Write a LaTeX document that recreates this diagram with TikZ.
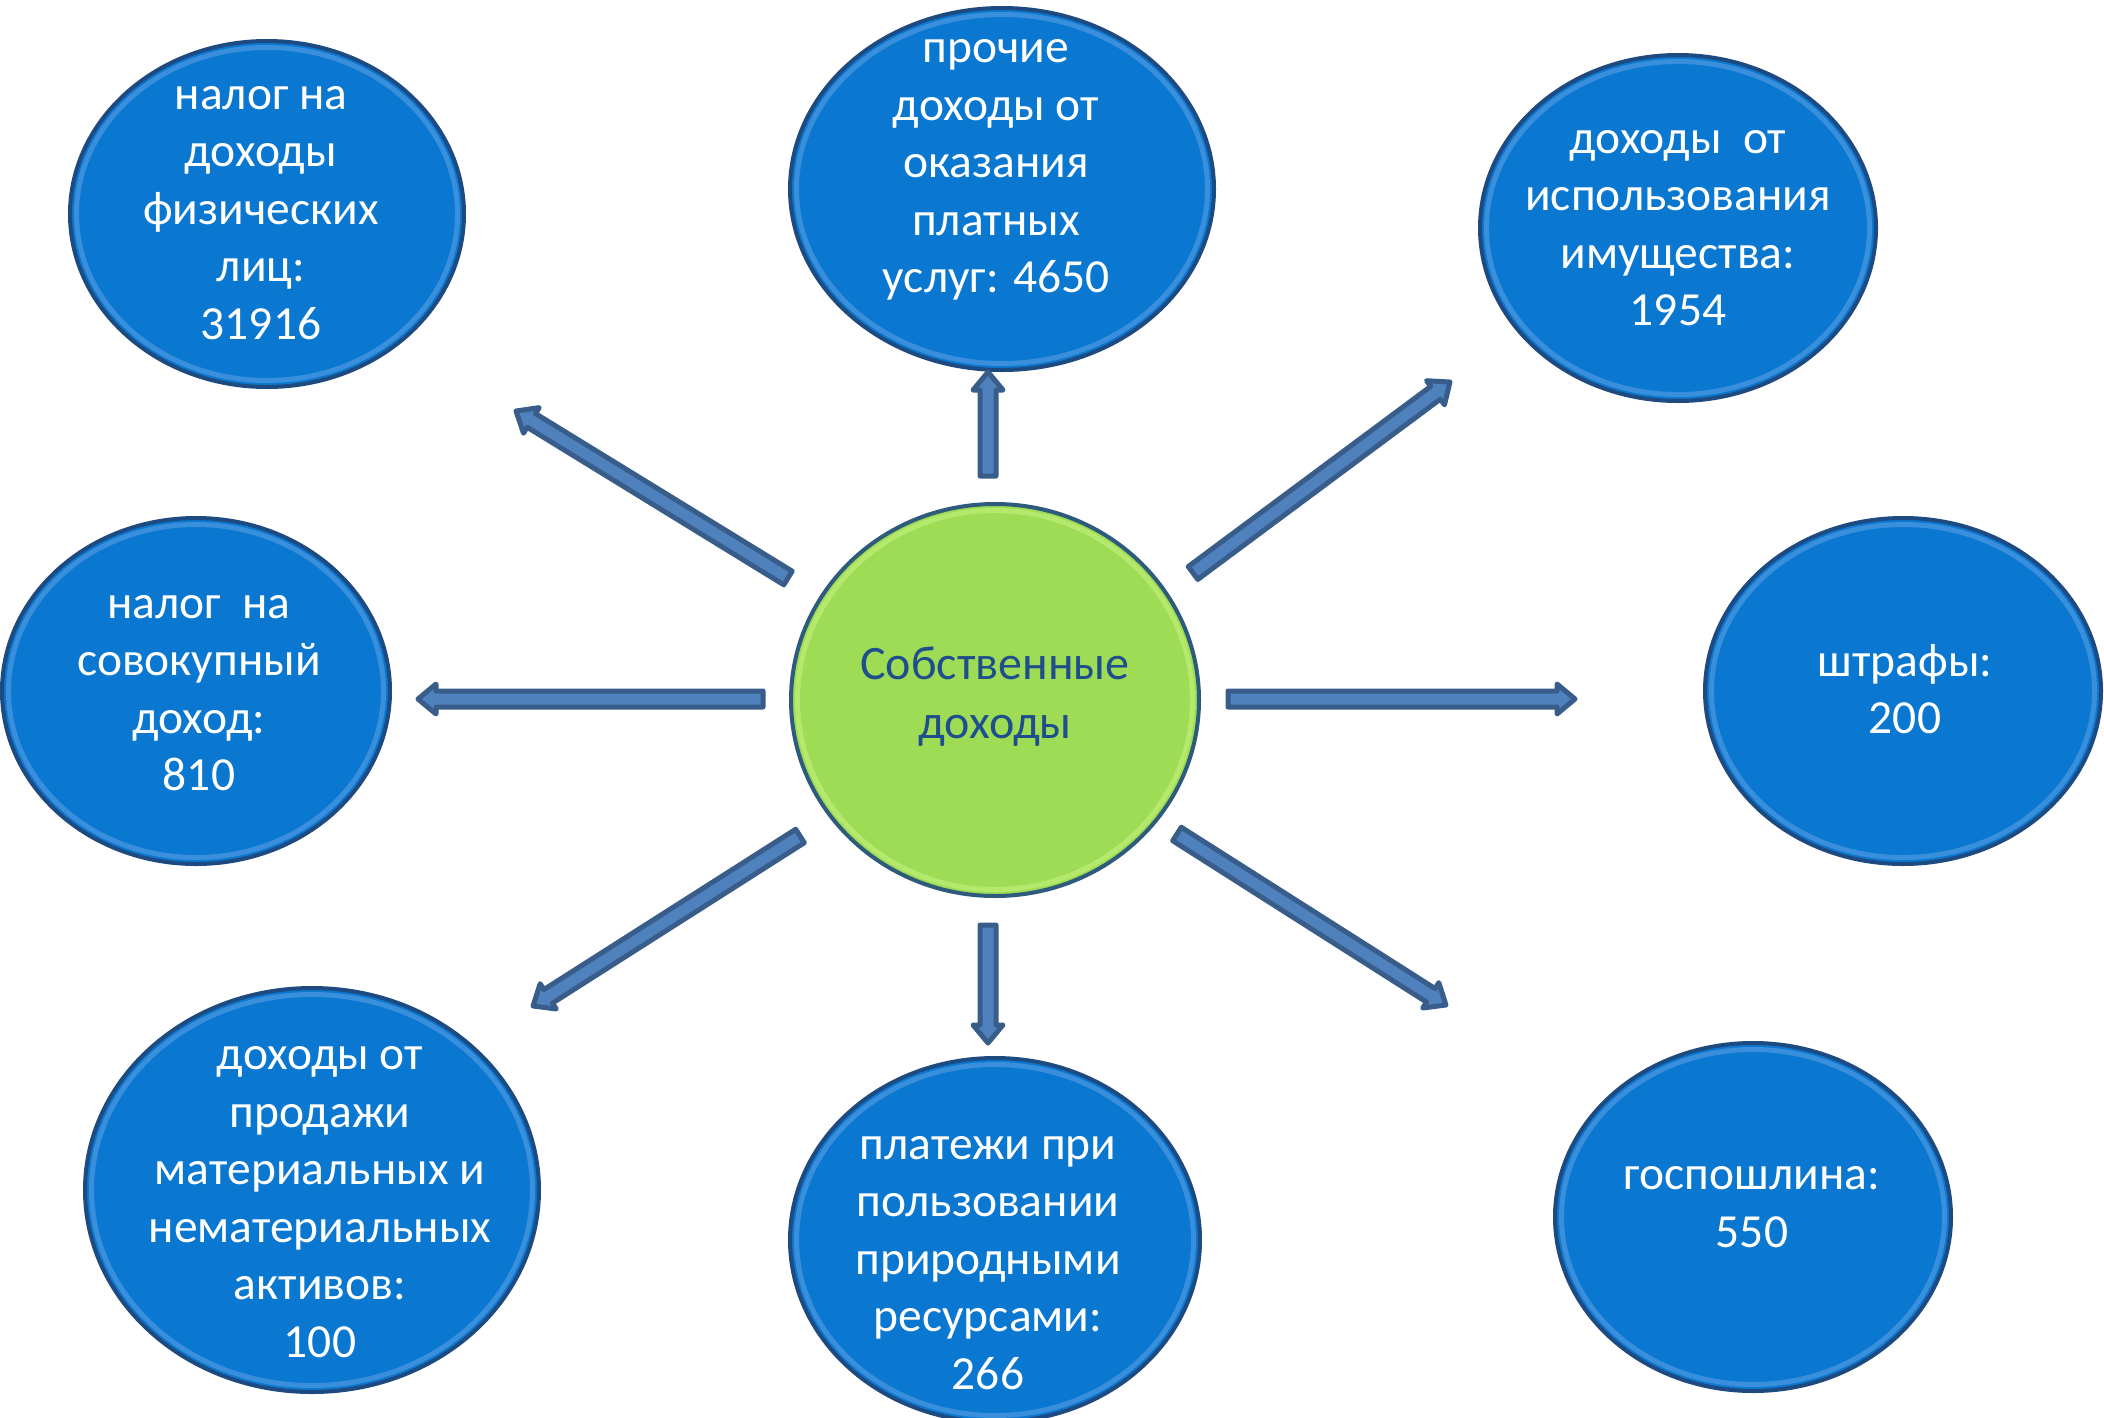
\documentclass[tikz,border=0pt]{standalone}
\usepackage{fontspec}
\setmainfont{Carlito}
\usetikzlibrary{calc,shapes.geometric}
\definecolor{bfill}{HTML}{0A78D0}
\definecolor{bring}{HTML}{3A8FDC}
\definecolor{bedge}{HTML}{1D4A80}
\definecolor{gfill}{HTML}{9EDC56}
\definecolor{gring}{HTML}{B4E96E}
\definecolor{gedge}{HTML}{2E5A7C}
\definecolor{gtext}{HTML}{1F4E8C}
\definecolor{afill}{HTML}{4F81BD}
\definecolor{aedge}{HTML}{385D8A}
\begin{document}
\begin{tikzpicture}[x=1pt,y=-1pt,
  bub/.style={ellipse, fill=bfill, draw=bedge, line width=4pt, inner sep=0pt},
  gbub/.style={ellipse, fill=gfill, draw=gedge, line width=4pt, inner sep=0pt},
  txt/.style={align=center, text=white, font=\fontsize{47.5}{57.5}\selectfont, inner sep=0pt},
  gtxt/.style={align=center, text=gtext, font=\fontsize{48}{59}\selectfont, inner sep=0pt},
  arr/.style={draw=aedge, fill=afill, line width=5pt, line join=round}]
\useasboundingbox (0,0) rectangle (2104,1417);

\newcommand\bubble[6]{%
  \node[#6, minimum width={2*#4pt}, minimum height={2*#5pt}] (#1) at (#2,#3) {};
}
\newcommand\ring[4]{%
  \draw[#2, line width=5pt] (#1.center) ellipse [x radius={#3pt-6.5pt}, y radius={#4pt-6.5pt}];
}
\newcommand\blockarr[2]{%
  \path let \p1=($(#2)-(#1)$) in \pgfextra{%
     \pgfmathparse{veclen(\x1,\y1)}\global\let\arrlen\pgfmathresult
     \pgfmathparse{atan2(\y1,\x1)}\global\let\arrang\pgfmathresult};
  \draw[arr, shift={(#1)}, rotate=\arrang] (0,-8) -- (\arrlen-18,-8) -- (\arrlen-18,-15)
     -- (\arrlen,0) -- (\arrlen-18,15) -- (\arrlen-18,8) -- (0,8) -- cycle;
}

% bubbles
\bubble{e1}{267}{214}{197}{173}{bub}\ring{e1}{bring}{197}{173}
\bubble{e2}{1002}{189}{212}{181}{bub}\ring{e2}{bring}{212}{181}
\bubble{e3}{1678}{228}{198}{173}{bub}\ring{e3}{bring}{198}{173}
\bubble{e4}{196}{691}{194}{173}{bub}\ring{e4}{bring}{194}{173}
\bubble{c}{995}{700}{204}{196}{gbub}\ring{c}{gring}{204}{196}
\bubble{e6}{1903}{691}{198}{173}{bub}\ring{e6}{bring}{198}{173}
\bubble{e7}{312}{1190}{227}{202}{bub}\ring{e7}{bring}{227}{202}
\bubble{e8}{995}{1240}{205}{182}{bub}\ring{e8}{bring}{205}{182}
\bubble{e9}{1753}{1217}{198}{174}{bub}\ring{e9}{bring}{198}{174}

% texts
\node[txt] (t1) at (261,213) {налог на\\доходы\\физических\\лиц:\\ 31916};
\node[txt] (t2) at (996,170) {прочие\\доходы от\\оказания\\платных\\услуг: 4650};
\node[txt] (t3) at (1678,228) {доходы\ \ от\\использования\\имущества:\\1954};
\node[txt] (t4) at (199,693) {налог\ \ на\\совокупный\\доход:\\810};
\node[gtxt] (tc) at (995,697) {Собственные\\доходы};
\node[txt] (t6) at (1905,689) {штрафы:\\200};
\node[txt] (t7) at (320,1202) {доходы от\\продажи\\материальных и\\нематериальных\\активов:\\100};
\node[txt] (t8) at (988,1263) {платежи при\\пользовании\\природными\\ресурсами:\\266};
\node[txt] (t9) at (1752,1207) {госпошлина:\\550};

% arrow end points
\coordinate (a1s) at (788,578); \coordinate (a1e) at (516,411);
\coordinate (a2s) at (988,476); \coordinate (a2e) at (988,372);
\coordinate (a3s) at (1193,573); \coordinate (a3e) at (1450,382);
\coordinate (a4s) at (763,699); \coordinate (a4e) at (418,699);
\coordinate (a6s) at (1228,699); \coordinate (a6e) at (1575,699);
\coordinate (a7s) at (800,836); \coordinate (a7e) at (533,1006);
\coordinate (a8s) at (988,925); \coordinate (a8e) at (988,1043);
\coordinate (a9s) at (1177,834); \coordinate (a9e) at (1446,1005);

\blockarr{a1s}{a1e}
\blockarr{a2s}{a2e}
\blockarr{a3s}{a3e}
\blockarr{a4s}{a4e}
\blockarr{a6s}{a6e}
\blockarr{a7s}{a7e}
\blockarr{a8s}{a8e}
\blockarr{a9s}{a9e}
\end{tikzpicture}
\end{document}
